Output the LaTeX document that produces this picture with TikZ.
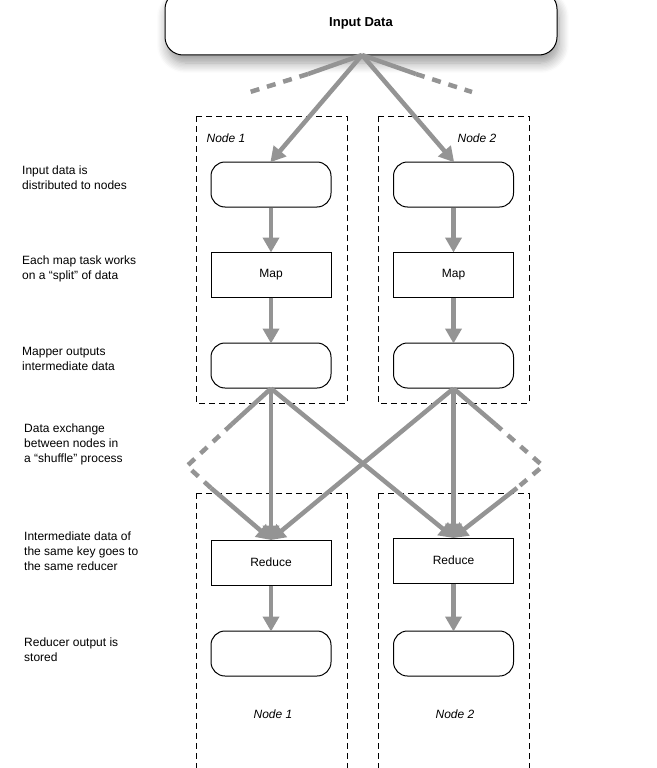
\documentclass[tikz,border=0pt]{standalone}
\usepackage{fontspec}
\setmainfont{Liberation Sans}
\usetikzlibrary{shadows.blur,arrows.meta}
\begin{document}
\begin{tikzpicture}[x=1pt,y=-1pt,
  rbox/.style={draw,line width=1pt,rounded corners=14pt,minimum width=120pt,minimum height=45pt,fill=white},
  sbox/.style={draw,line width=1pt,minimum width=120pt,minimum height=45pt,fill=white,font=\fontsize{12}{14}\selectfont},
  nodebox/.style={draw,dashed,line width=0.9pt,dash pattern=on 6pt off 4pt},
  flow/.style={draw=black!42,line width=4.5pt,-{Triangle[length=15pt,width=16pt]},shorten >=-1pt},
  gline/.style={draw=black!42,line width=4.5pt},
  gdash/.style={draw=black!42,line width=4.5pt,dash pattern=on 9pt off 8pt},
  lab/.style={anchor=north west,align=left,font=\fontsize{12}{15}\selectfont,inner sep=0pt},
  nlab/.style={font=\fontsize{12}{14}\selectfont\itshape}]
\useasboundingbox (0,0) rectangle (656,768);
% dashed node regions
\draw[nodebox] (196,116) rectangle (347,403);
\draw[nodebox] (378,116) rectangle (529,403);
\draw[nodebox] (196,493) -- (196,768) (347,493) -- (347,768) (196,493) -- (347,493);
\draw[nodebox] (378,493) -- (378,768) (529,493) -- (529,768) (378,493) -- (529,493);
\node[nlab] at (226,138) {Node 1};
\node[nlab] at (477,138) {Node 2};
\node[nlab] at (273,714) {Node 1};
\node[nlab] at (455,714) {Node 2};
% input
\node[draw,line width=1pt,rounded corners=18pt,minimum width=392pt,minimum height=64pt,fill=white,
  blur shadow={shadow xshift=2pt,shadow yshift=-8pt,shadow blur steps=8,shadow blur radius=10pt},
  font=\bfseries\fontsize{13}{15}\selectfont] (in) at (361,23) {Input Data};
\coordinate (src) at (362,55);
% boxes
\node[rbox] (a1) at (271,184.5) {};
\node[rbox] (a2) at (453.5,184.5) {};
\node[sbox] (m1) at (271,274.5) {Map};
\node[sbox] (m2) at (453.5,274.5) {Map};
\node[rbox] (b1) at (271,365.5) {};
\node[rbox] (b2) at (453.5,365.5) {};
\node[sbox] (r1) at (271,562.5) {Reduce};
\node[sbox] (r2) at (453.5,560.5) {Reduce};
\node[rbox] (c1) at (271,653.5) {};
\node[rbox] (c2) at (453.5,653.5) {};
% input arrows
\draw[flow] (src) -- (a1.north);
\draw[flow] (src) -- (a2.north);
\coordinate (il) at (308,74); \coordinate (ile) at (250,92);
\coordinate (ir) at (416,74); \coordinate (ire) at (472,92);
\draw[gline] (src) -- (il); \draw[gdash] (il) -- (ile);
\draw[gline] (src) -- (ir); \draw[gdash] (ir) -- (ire);
% vertical
\draw[flow] (a1) -- (m1); \draw[flow] (a2) -- (m2);
\draw[flow] (m1) -- (b1); \draw[flow] (m2) -- (b2);
\draw[flow] (r1) -- (c1); \draw[flow] (r2) -- (c2);
% shuffle
\draw[flow] (b1.south) -- (r1.north);
\draw[flow] (b2.south) -- (r2.north);
\draw[flow] (b1.south) -- (r2.north);
\draw[flow] (b2.south) -- (r1.north);
\coordinate (lk) at (187,466); \coordinate (l1) at (232,424); \coordinate (l2) at (211,488);
\coordinate (rk) at (543,466); \coordinate (r1p) at (495,424); \coordinate (r2p) at (517,488);
\draw[gline] (b1.south) -- (l1); \draw[gdash] (l1) -- (lk) -- (l2);
\draw[flow] (l2) -- (r1.north);
\draw[gline] (b2.south) -- (r1p); \draw[gdash] (r1p) -- (rk) -- (r2p);
\draw[flow] (r2p) -- (r2.north);
% left labels
\node[lab] at (22,166) {Input data is\\distributed to nodes};
\node[lab] at (22,256) {Each map task works\\on a ``split'' of data};
\node[lab] at (22,347) {Mapper outputs\\intermediate data};
\node[lab] at (24,424) {Data exchange\\between nodes in\\a ``shuffle'' process};
\node[lab] at (24,532) {Intermediate data of\\the same key goes to\\the same reducer};
\node[lab] at (24,638) {Reducer output is\\stored};
\end{tikzpicture}
\end{document}
